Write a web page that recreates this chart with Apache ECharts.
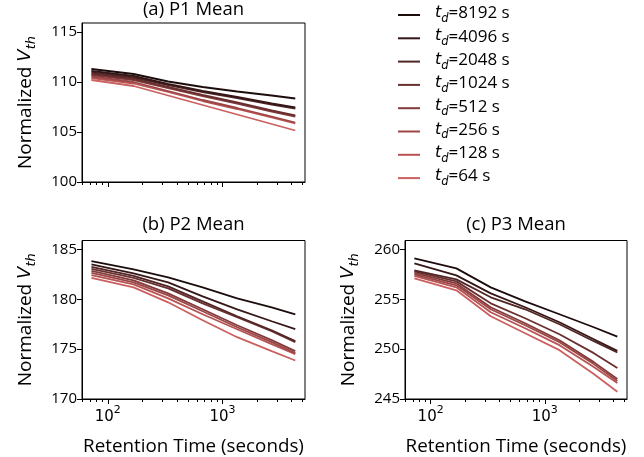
<!DOCTYPE html>
<html>
<head>
<meta charset="utf-8">
<script src="https://cdn.jsdelivr.net/npm/echarts@6/dist/echarts.min.js"></script>
<style>
  html, body { margin: 0; padding: 0; background: #fff; }
  #chart { width: 644px; height: 457px; }
</style>
</head>
<body>
<div id="chart"></div>
<script>
// retention time points (seconds), shared by all three panels
var retentionTimes = [72, 168, 336, 672, 1344, 2688, 4320];
// dwell times, legend order
var dwellTimes = ['8192', '4096', '2048', '1024', '512', '256', '128', '64'];

// (a) P1 mean, one row per dwell time
var p1Mean = [
    [111.3, 110.8, 110.05, 109.5, 109.05, 108.65, 108.35],
    [111.1, 110.6, 109.8, 109.1, 108.5, 107.85, 107.45],
    [110.95, 110.45, 109.7, 109.0, 108.4, 107.75, 107.35],
    [110.8, 110.3, 109.5, 108.7, 107.95, 107.15, 106.65],
    [110.7, 110.2, 109.4, 108.6, 107.85, 107.05, 106.55],
    [110.55, 110.0, 109.1, 108.2, 107.4, 106.55, 105.95],
    [110.4, 109.85, 109.0, 108.1, 107.3, 106.45, 105.85],
    [110.2, 109.6, 108.65, 107.7, 106.75, 105.8, 105.15]
];
// (b) P2 mean
var p2Mean = [
    [183.83, 183.0, 182.2, 181.2, 180.1, 179.2, 178.5],
    [183.5, 182.6, 181.7, 180.3, 179.0, 177.8, 177.0],
    [183.26, 182.35, 181.3, 179.8, 178.3, 176.9, 175.8],
    [183.06, 182.15, 181.1, 179.6, 178.2, 176.8, 175.7],
    [182.86, 181.9, 180.6, 179.0, 177.4, 175.9, 174.8],
    [182.66, 181.7, 180.4, 178.8, 177.2, 175.7, 174.6],
    [182.43, 181.5, 180.1, 178.5, 177.0, 175.5, 174.5],
    [182.16, 181.2, 179.7, 177.9, 176.2, 174.8, 173.86]
];
// (c) P3 mean
var p3Mean = [
    [259.1, 258.1, 256.2, 254.8, 253.5, 252.2, 251.26],
    [258.6, 257.4, 255.6, 254.2, 252.7, 251.0, 249.83],
    [257.9, 257.0, 255.2, 254.0, 252.5, 250.8, 249.66],
    [257.8, 256.8, 254.6, 253.1, 251.5, 249.6, 248.1],
    [257.65, 256.6, 254.2, 252.6, 250.9, 248.7, 247.0],
    [257.5, 256.4, 254.0, 252.4, 250.7, 248.5, 246.8],
    [257.35, 256.2, 253.7, 252.1, 250.4, 248.2, 246.6],
    [257.1, 255.9, 253.3, 251.6, 249.9, 247.5, 245.73]
];

var panelTitles = ['(a) P1 Mean', '(b) P2 Mean', '(c) P3 Mean'];
var yTicks = [[100, 105, 110, 115], [170, 175, 180, 185], [245, 250, 255, 260]];
var yRanges = [[100, 115.9], [170, 185.9], [245, 260.9]];
var xMajorTicks = [100, 1000];
var xMinorTicks = [60, 70, 80, 90, 200, 300, 400, 500, 600, 700, 800, 900, 2000, 3000, 4000, 5000];

var lineColors = ['#1c0c0c', '#361717', '#522626', '#6a3030', '#843b3b', '#9d4646', '#b75353', '#cc6060'];

var FONT = '"Open Sans", sans-serif';
var MATH = '"DejaVu Sans", sans-serif';
var grids = [
    { left: 82, top: 23, width: 223, height: 159 },
    { left: 82, top: 240.5, width: 223, height: 159 },
    { left: 405, top: 240.5, width: 222, height: 159 }
];

var myChart = echarts.init(document.getElementById('chart'));

var option = {
    animation: false,
    backgroundColor: '#fff',
    title: [],
    legend: {
        orient: 'vertical',
        left: 397,
        top: 5,
        padding: 0,
        itemWidth: 22,
        itemHeight: 14,
        itemGap: 3.3,
        data: dwellTimes,
        itemStyle: { opacity: 0 },
        formatter: function (name) {
            return '{t|t}{d|d}{n|=' + name + ' s}';
        },
        textStyle: {
            fontFamily: FONT,
            rich: {
                t: { fontSize: 16, fontStyle: 'italic', fontFamily: MATH, color: '#000', padding: [0, 0, 0, 10], lineHeight: 20, verticalAlign: 'top' },
                d: { fontSize: 11.5, fontStyle: 'italic', fontFamily: MATH, color: '#000', lineHeight: 11, verticalAlign: 'bottom' },
                n: { fontSize: 17, fontFamily: FONT, color: '#000', lineHeight: 20, verticalAlign: 'top' }
            }
        }
    },
    grid: [],
    xAxis: [],
    yAxis: [],
    series: []
};

var panelData = [p1Mean, p2Mean, p3Mean];

for (var i = 0; i < 3; i++) {
    var g = grids[i];
    option.grid.push({
        left: g.left, top: g.top, width: g.width, height: g.height,
        show: true, borderColor: '#000', borderWidth: 1, backgroundColor: 'transparent'
    });
    option.title.push({
        text: panelTitles[i],
        left: g.left + g.width / 2,
        top: i === 0 ? 0 : g.top - 25,
        textAlign: 'center',
        padding: 0,
        textStyle: { fontFamily: FONT, fontSize: 18.5, fontWeight: 'normal', color: '#000' }
    });
    // major x axis (log scale)
    option.xAxis.push({
        type: 'log',
        logBase: 10,
        gridIndex: i,
        position: 'bottom',
        min: 59.6,
        max: 5250,
        name: i === 0 ? '' : 'Retention Time (seconds)',
        nameLocation: 'middle',
        nameGap: 38,
        nameTextStyle: { fontFamily: FONT, fontSize: 18.8, color: '#000' },
        axisLine: { show: true, lineStyle: { color: '#000', width: 1 } },
        axisTick: { show: true, length: 5, customValues: xMajorTicks, lineStyle: { color: '#000' } },
        axisLabel: {
            show: i !== 0,
            customValues: xMajorTicks,
            margin: 6,
            formatter: function (v) {
                return '{b|10}{e|' + Math.round(Math.log10(v)) + '}';
            },
            rich: {
                b: { fontFamily: MATH, fontSize: 15, color: '#000', lineHeight: 20, verticalAlign: 'bottom' },
                e: { fontFamily: MATH, fontSize: 11, color: '#000', lineHeight: 8, verticalAlign: 'top' }
            }
        },
        splitLine: { show: false },
        minorTick: { show: false }
    });
    // minor ticks overlay on the same bottom edge
    option.xAxis.push({
        type: 'log',
        logBase: 10,
        gridIndex: i,
        position: 'bottom',
        offset: 0,
        min: 59.6,
        max: 5250,
        axisLine: { show: false },
        axisTick: { show: true, length: 3, customValues: xMinorTicks, lineStyle: { color: '#000' } },
        axisLabel: { show: false },
        splitLine: { show: false }
    });
    option.yAxis.push({
        type: 'value',
        gridIndex: i,
        min: yRanges[i][0],
        max: yRanges[i][1],
        name: '{v|Normalized }{V|V}{s|th}',
        nameLocation: 'middle',
        nameGap: 44,
        nameTextStyle: {
            rich: {
                v: { fontFamily: FONT, fontSize: 19, color: '#000', lineHeight: 22, verticalAlign: 'top' },
                V: { fontFamily: MATH, fontSize: 18, fontStyle: 'italic', color: '#000', lineHeight: 22, verticalAlign: 'top' },
                s: { fontFamily: MATH, fontSize: 13, fontStyle: 'italic', color: '#000', lineHeight: 10, verticalAlign: 'bottom' }
            }
        },
        axisLine: { show: true, lineStyle: { color: '#000', width: 1 } },
        axisTick: { show: true, length: 5, customValues: yTicks[i], lineStyle: { color: '#000' } },
        axisLabel: { customValues: yTicks[i], fontFamily: FONT, fontSize: 15, color: '#000', margin: 5 },
        splitLine: { show: false }
    });

    for (var j = 0; j < dwellTimes.length; j++) {
        var vals = panelData[i][j];
        option.series.push({
            type: 'line',
            name: dwellTimes[j],
            xAxisIndex: i * 2,
            yAxisIndex: i,
            symbol: 'none',
            z: 10 - j,
            lineStyle: { color: lineColors[j], width: 1.8 },
            itemStyle: { color: lineColors[j] },
            data: retentionTimes.map(function (t, k) { return [t, vals[k]]; })
        });
    }
}

myChart.setOption(option);
</script>
</body>
</html>
